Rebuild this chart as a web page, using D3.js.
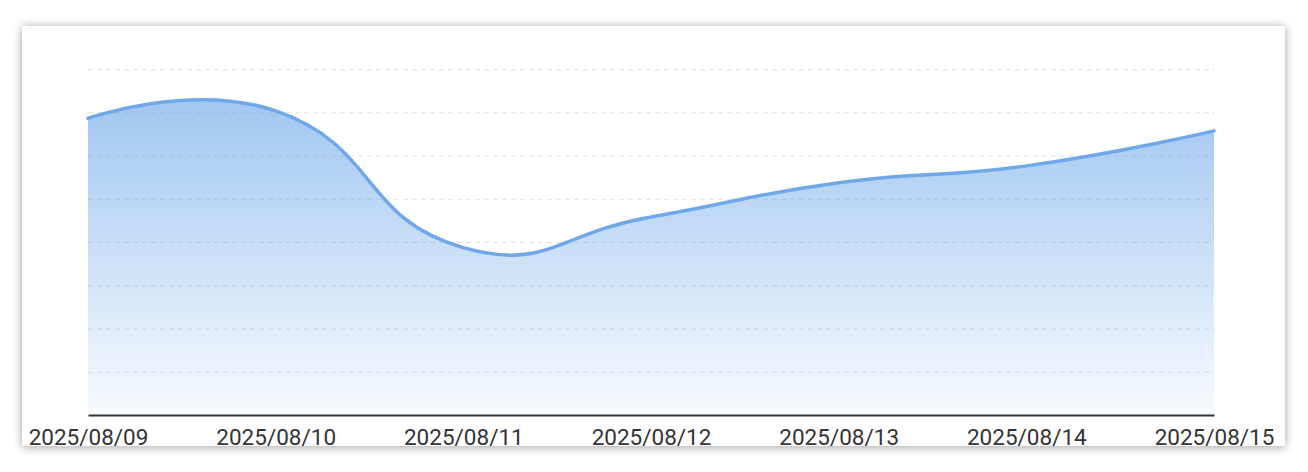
<!DOCTYPE html>
<html><head><meta charset="utf-8">
<script src="https://cdn.jsdelivr.net/npm/d3@7/dist/d3.min.js"></script>
<style>
body{margin:0;background:#fff;width:1308px;height:472px;overflow:hidden;}
#card{position:absolute;left:22px;top:26px;width:1263px;height:420px;background:#fff;box-shadow:0 1px 9px rgba(0,0,0,0.38);}
svg{position:absolute;left:0;top:0;}
</style>
</head><body>
<div id="card"></div>
<svg id="chart" width="1308" height="472"></svg>
<script>
const dates = ["2025/08/09","2025/08/10","2025/08/11","2025/08/12","2025/08/13","2025/08/14","2025/08/15"];
const values = [68.6, 70.3, 38.7, 45.8, 53.7, 57.6, 65.7];
const yTicks = [0,10,20,30,40,50,60,70,80];

const svg = d3.select("#chart");
const x = d3.scalePoint().domain(dates).range([88, 1214]);
const y = d3.scaleLinear().domain([0, 80]).range([415, 69]);

const defs = svg.append("defs");
const grad = defs.append("linearGradient").attr("id","areaGrad")
  .attr("x1",0).attr("y1",0).attr("x2",0).attr("y2",1);
grad.append("stop").attr("offset","0%").attr("stop-color","#6fa8ea").attr("stop-opacity",0.65);
grad.append("stop").attr("offset","100%").attr("stop-color","#6fa8ea").attr("stop-opacity",0.05);

// grid lines
svg.append("g").selectAll("line").data(yTicks.filter(d => d > 0)).join("line")
  .attr("x1", 88).attr("x2", 1214)
  .attr("y1", d => y(d) + 0.5).attr("y2", d => y(d) + 0.5)
  .attr("stroke", "#e0e0e0").attr("stroke-width", 1).attr("stroke-dasharray", "5,4");

// ECharts-style smoothing (smooth = 0.5)
const pts = dates.map((d, i) => [x(d), y(values[i])]);
function smoothPath(p, smooth, ctx) {
  const n = p.length;
  const cps = [];
  for (let i = 0; i < n; i++) {
    if (i === 0 || i === n - 1) { cps.push(p[i].slice()); continue; }
    const prev = p[i-1], next = p[i+1], cur = p[i];
    const vx = (next[0]-prev[0])*smooth, vy = (next[1]-prev[1])*smooth;
    let d0 = Math.hypot(cur[0]-prev[0], cur[1]-prev[1]);
    let d1 = Math.hypot(cur[0]-next[0], cur[1]-next[1]);
    const s = d0 + d1; d0 /= s; d1 /= s;
    cps.push([cur[0]-vx*d0, cur[1]-vy*d0]);
    cps.push([cur[0]+vx*d1, cur[1]+vy*d1]);
  }
  ctx.moveTo(p[0][0], p[0][1]);
  for (let i = 0; i < n - 1; i++) {
    const c1 = cps[2*i], c2 = cps[2*i+1], q = p[i+1];
    ctx.bezierCurveTo(c1[0], c1[1], c2[0], c2[1], q[0], q[1]);
  }
  return ctx;
}
const areaP = d3.path();
smoothPath(pts, 0.5, areaP);
areaP.lineTo(pts[pts.length-1][0], y(0));
areaP.lineTo(pts[0][0], y(0));
areaP.closePath();
svg.append("path").attr("d", areaP.toString()).attr("fill", "url(#areaGrad)");

const lineP = d3.path();
smoothPath(pts, 0.5, lineP);
svg.append("path").attr("d", lineP.toString()).attr("fill", "none")
  .attr("stroke", "#6fa8ea").attr("stroke-width", 3.5).attr("stroke-linejoin","round").attr("stroke-linecap","round");

// x axis
const xAxis = d3.axisBottom(x).tickSize(0).tickPadding(14);
const gx = svg.append("g").attr("transform", "translate(0,415)").call(xAxis);
gx.select(".domain").attr("stroke", "#333").attr("stroke-width", 2);
gx.selectAll("text").attr("font-family", "Roboto, sans-serif").attr("font-size", 22.5).attr("fill", "#333");
</script>
</body></html>
